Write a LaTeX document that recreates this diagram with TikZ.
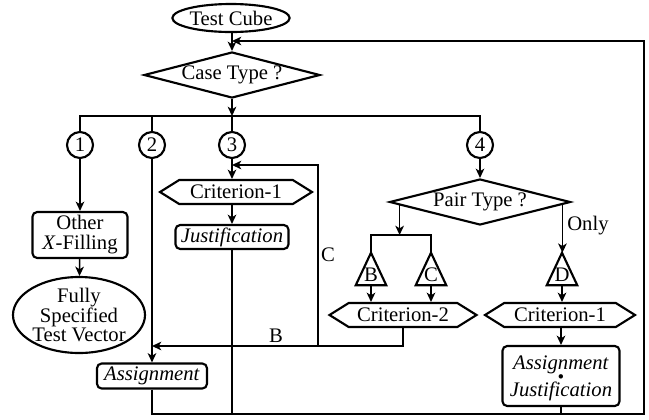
\documentclass[tikz,border=0pt]{standalone}
\usepackage{fontspec}
\setmainfont{Liberation Serif}
\usetikzlibrary{shapes.geometric,shapes.symbols,arrows.meta,calc}
\newdimen\pxu \pxu=0.75pt
% a centred dot set above the second line
\newcommand\dotover[1]{\ooalign{#1\cr\hfil\raisebox{12.5pt}{\fontsize{8}{8}\selectfont$\bullet$}\hfil\cr}}
\begin{document}
\begin{tikzpicture}[x=0.75pt,y=-0.75pt,
  every node/.style={font=\fontsize{15.5}{18}\selectfont, inner sep=0pt},
  line/.style={line width=1.1pt},
  arr/.style={line width=1.1pt, -{Stealth[length=7pt,width=6.5pt,inset=2pt]}},
  shp/.style={draw, line width=1.6pt},
  circ/.style={shp, circle, minimum size=26\pxu},
  box/.style={shp, rectangle, rounded corners=3.5pt},
  hex/.style={shp, signal, signal to=west and east, signal pointer angle=64, minimum height=24\pxu},
  tri/.style={minimum width=30\pxu, minimum height=32\pxu, text height=19pt, text depth=0pt},
  decision/.style={shp, diamond, minimum height=46\pxu}
]
\useasboundingbox (0,0) rectangle (649,419);

% shapes
\node[shp, ellipse, minimum width=116\pxu, minimum height=28\pxu] (tc) at (231,18) {Test Cube};
\node[decision, aspect=3.8, minimum width=176\pxu] (ct) at (232,75) {Case Type ?};

\node[circ] (c1) at (80,145) {1};
\node[circ] (c2) at (152,145) {2};
\node[circ] (c3) at (232,145) {3};
\node[circ] (c4) at (480,145) {4};

\node[box, minimum width=95\pxu, minimum height=46\pxu, align=center,
      font=\fontsize{15.5}{15}\selectfont] (ox) at (80,235) {Other\\\textit{X}-Filling};
\node[shp, ellipse, minimum width=132\pxu, minimum height=76\pxu, inner sep=-3pt, align=center,
      font=\fontsize{15.5}{13}\selectfont] (fs) at (79,315) {Fully\\Specified\\Test Vector};
\node[box, minimum width=110\pxu, minimum height=25\pxu] (as) at (152,376) {\textit{Assignment}};

\node[hex, minimum width=152\pxu] (cr1) at (236,192) {Criterion-1};
\node[box, minimum width=113\pxu, minimum height=24\pxu] (jf) at (232,237) {\textit{Justification}};

\node[decision, aspect=3.9, minimum width=181\pxu] (pt) at (480,202) {Pair Type ?};
\node[tri] (tB) at (371,269) {B};
\node[tri] (tC) at (431,269) {C};
\node[tri] (tD) at (562,269) {D};
\foreach \t in {tB,tC,tD}
  \draw[line width=1.6pt] (\t.south west) -- (\t.north) -- (\t.south east) -- cycle;

\node[hex, minimum width=147\pxu] (cr2) at (403,315) {Criterion-2};
\node[hex, minimum width=150\pxu] (cr1b) at (560,315) {Criterion-1};
\node[box, minimum width=117\pxu, minimum height=60\pxu, align=center,
      font=\fontsize{15.5}{20}\selectfont] (aj) at (561,376)
  {\textit{Assignment}\\\dotover{\textit{Justification}}};

% labels
\node (lB) at (276,336) {B};
\node (lC) at (328,255) {C};
\node[anchor=west] (lOnly) at (567,226) {Only};

% helper points
\coordinate (bus) at (232,116);
\coordinate (bot) at (644,414);
\coordinate (top) at (644,41);
\coordinate (bc) at (318,346);
\coordinate (cj) at (318,165);
\coordinate (fork) at (401,235);
\coordinate (pl) at ($(pt.west)!0.122!(pt.south)$);
\coordinate (pr) at ($(pt.east)!0.1!(pt.south)$);

% connectors
\draw[arr] (tc.south -| bus) -- (ct);
\draw[arr] (ct) -- (bus);
\draw[line] (c1.north) -- (c1.north |- bus) -- (c4.north |- bus) -- (c4.north);
\draw[line] (c2.north) -- (c2.north |- bus);
\draw[line] (c3.north) -- (bus);

\draw[arr] (c1) -- (ox);
\draw[arr] (ox) -- (fs);
\draw[arr] (c2) -- (as);

\draw[arr] (c3) -- (c3 |- cr1.north);
\draw[arr] (jf |- cr1.south) -- (jf.north);
\draw[line] (jf.south) -- (jf.south |- bot);

\draw[arr] (as.south) -- (as.south |- bot) -- (bot) -- (top) -- (bus |- top);
\draw[line] (aj.south) -- (aj.south |- bot);

\draw[arr] (cr2.south) -- (cr2.south |- bc) -- (as.north |- bc);
\draw[arr] (bc) -- (cj) -- (c3 |- cj);

\draw[arr] (c4) -- (pt);
\draw[arr] (pl) -- (pl |- fork);
\draw[line] (tB.north) -- (tB.north |- fork) -- (tC.north |- fork) -- (tC.north);
\draw[arr] (pr) -- (pr |- tD.north);

\draw[arr] (tB.south) -- (tB.south |- cr2.north);
\draw[arr] (tC.south) -- (tC.south |- cr2.north);
\draw[arr] (tD.south) -- (tD.south |- cr1b.north);
\draw[arr] (aj |- cr1b.south) -- (aj.north);
\end{tikzpicture}
\end{document}
